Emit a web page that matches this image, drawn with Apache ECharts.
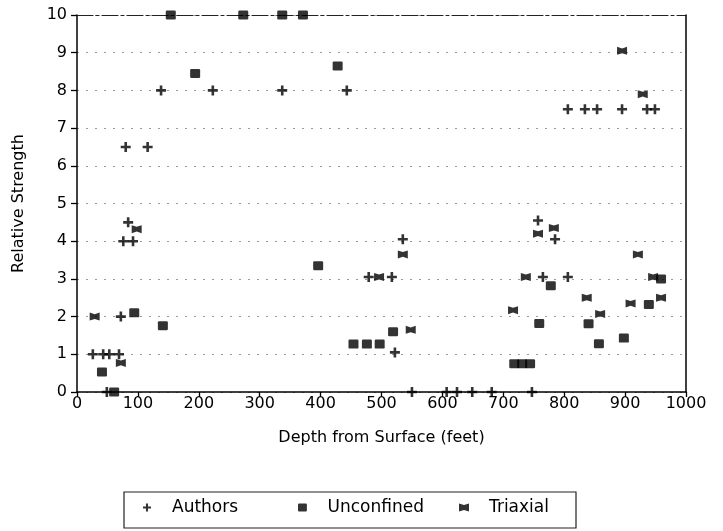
<!DOCTYPE html>
<html>
<head>
<meta charset="utf-8">
<title>Relative Strength vs Depth</title>
<script src="https://cdn.jsdelivr.net/npm/echarts@6/dist/echarts.min.js"></script>
<style>
  html, body { margin: 0; padding: 0; background: #fff; }
  #chart { width: 723px; height: 531px; }
</style>
</head>
<body>
<div id="chart"></div>
<script>
// Depth (feet) and relative strength for each test group
const authorsDepth = [26, 43, 53, 69, 49, 72, 76, 92, 84, 80, 116, 138, 223, 337, 443, 479, 517, 522, 535,
  550, 607, 624, 649, 681, 747, 757, 785, 765, 806, 806, 834, 854, 895, 936, 949];
const authorsStrength = [1, 1, 1, 1, 0, 2, 4, 4, 4.5, 6.5, 6.5, 8, 8, 8, 8, 3.05, 3.05, 1.05, 4.05,
  0, 0, 0, 0, 0, 0, 4.55, 4.05, 3.05, 3.05, 7.5, 7.5, 7.5, 7.5, 7.5, 7.5];

const unconfinedDepth = [154, 273, 337, 371, 194, 428, 94, 141, 41, 61, 396, 454, 476, 497, 519,
  718, 731, 744, 759, 778, 840, 857, 898, 939, 959];
const unconfinedStrength = [10, 10, 10, 10, 8.45, 8.65, 2.1, 1.76, 0.53, 0, 3.35, 1.27, 1.27, 1.27, 1.6,
  0.75, 0.75, 0.75, 1.82, 2.82, 1.81, 1.28, 1.43, 2.32, 3.0];

const triaxialDepth = [29, 72, 98, 496, 535, 548, 716, 737, 757, 783, 837, 859, 895, 909, 921, 929, 946, 959];
const triaxialStrength = [2.0, 0.77, 4.32, 3.05, 3.65, 1.65, 2.17, 3.05, 4.2, 4.35, 2.5, 2.07, 9.05, 2.35,
  3.65, 7.9, 3.05, 2.5];

const depthTicks = [0, 100, 200, 300, 400, 500, 600, 700, 800, 900, 1000];
const strengthTicks = [0, 1, 2, 3, 4, 5, 6, 7, 8, 9, 10];

const seriesNames = ['Authors', 'Unconfined', 'Triaxial'];

// Marker shapes
const PLUS = 'path://M3.7,0H6.3V3.7H10V6.3H6.3V10H3.7V6.3H0V3.7H3.7Z';
const BLOCK = 'path://M1.2,0H8.8Q10,0 10,1.2V7.8Q10,9 8.8,9H1.2Q0,9 0,7.8V1.2Q0,0 1.2,0Z';
const BOWTIE = 'path://M0,0L5,1.6L10,0V8L5,6.4L0,8Z';

const INK = '#000';
const FONT = 'DejaVu Sans';

function pairs(xs, ys) {
  return xs.map((x, i) => [x, ys[i]]);
}

const chart = echarts.init(document.getElementById('chart'), null, { renderer: 'canvas' });

const xStep = depthTicks[1] - depthTicks[0];
const yStep = strengthTicks[1] - strengthTicks[0];

function legendAt(left, name, icon) {
  return {
    left: left,
    top: 494,
    orient: 'horizontal',
    itemWidth: 40,
    itemHeight: 8,
    selectedMode: false,
    data: [{ name: name, icon: icon }],
    textStyle: { fontFamily: FONT, fontSize: 17, color: INK }
  };
}

chart.setOption({
  animation: false,
  backgroundColor: '#fff',
  grid: { left: 77, right: 37, top: 15, bottom: 139 },
  xAxis: [{
    type: 'value',
    min: depthTicks[0],
    max: depthTicks[depthTicks.length - 1],
    interval: xStep,
    name: 'Depth from Surface (feet)',
    nameLocation: 'middle',
    nameGap: 38,
    nameTextStyle: { fontFamily: FONT, fontSize: 16, color: INK },
    axisLine: { show: true, onZero: false, lineStyle: { color: INK, width: 1.5 } },
    axisTick: { show: true, inside: false, length: 5, lineStyle: { color: INK, width: 1.3 } },
    axisLabel: {
      fontFamily: FONT, fontSize: 16, color: INK, margin: 4,
      formatter: (v) => String(v)
    },
    splitLine: { show: false }
  }, {
    type: 'value',
    position: 'top',
    min: depthTicks[0],
    max: depthTicks[depthTicks.length - 1],
    axisLine: { show: true, onZero: false, lineStyle: { color: '#222', width: 1.2, type: [16, 3, 3, 3] } },
    axisTick: { show: false },
    axisLabel: { show: false },
    splitLine: { show: false }
  }],
  yAxis: [{
    type: 'value',
    min: strengthTicks[0],
    max: strengthTicks[strengthTicks.length - 1],
    interval: yStep,
    name: 'Relative Strength',
    nameLocation: 'middle',
    nameGap: 50,
    nameTextStyle: { fontFamily: FONT, fontSize: 16, color: INK },
    axisLine: { show: true, onZero: false, lineStyle: { color: INK, width: 1.5 } },
    axisTick: { show: true, inside: false, length: 6, lineStyle: { color: INK, width: 1.3 } },
    axisLabel: { fontFamily: FONT, fontSize: 16, color: INK, margin: 10 },
    splitLine: {
      show: true,
      lineStyle: { color: '#9a9a9a', width: 1, type: [2, 7] }
    }
  }, {
    type: 'value',
    position: 'right',
    min: strengthTicks[0],
    max: strengthTicks[strengthTicks.length - 1],
    axisLine: { show: true, onZero: false, lineStyle: { color: INK, width: 1.5 } },
    axisTick: { show: false },
    axisLabel: { show: false },
    splitLine: { show: false }
  }],
  legend: [
    legendAt(138, seriesNames[0], PLUS),
    legendAt(293, seriesNames[1], BLOCK),
    legendAt(454, seriesNames[2], BOWTIE)
  ],
  graphic: [{
    type: 'rect',
    shape: { x: 124, y: 492, width: 452, height: 36 },
    style: { fill: 'none', stroke: '#222', lineWidth: 1.2 },
    silent: true
  }],
  series: [{
    name: seriesNames[0],
    type: 'scatter',
    symbol: PLUS,
    symbolSize: [10, 10],
    itemStyle: { color: INK },
    data: pairs(authorsDepth, authorsStrength),
    z: 3
  }, {
    name: seriesNames[1],
    type: 'scatter',
    symbol: BLOCK,
    symbolSize: [10, 9],
    itemStyle: { color: INK },
    data: pairs(unconfinedDepth, unconfinedStrength),
    z: 2
  }, {
    name: seriesNames[2],
    type: 'scatter',
    symbol: BOWTIE,
    symbolSize: [10, 8],
    itemStyle: { color: INK },
    data: pairs(triaxialDepth, triaxialStrength),
    z: 2
  }]
});
</script>
</body>
</html>
